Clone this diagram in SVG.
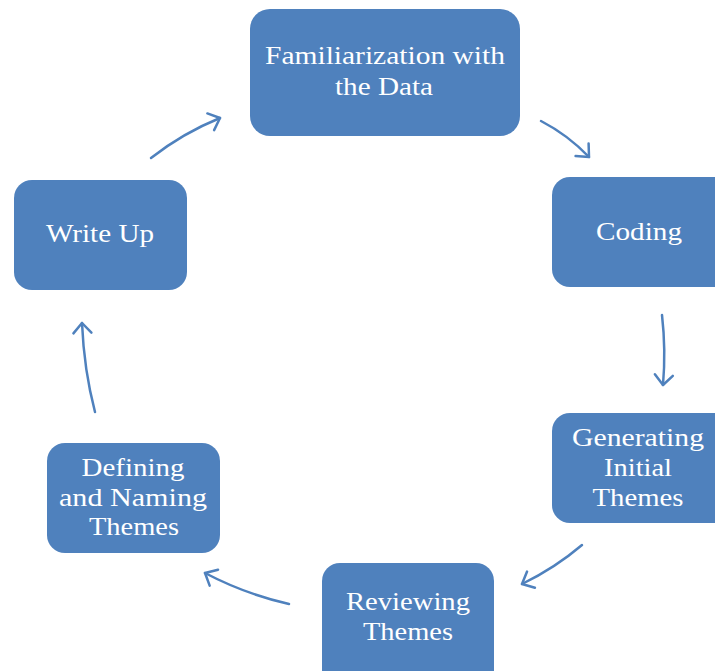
<svg xmlns="http://www.w3.org/2000/svg" width="715" height="671" viewBox="0 0 715 671">
  <style>
    .box { fill: #4F81BD; }
    .lbl { fill: #ffffff; font-family: "Liberation Serif", "DejaVu Serif", serif; font-size: 26px; text-anchor: middle; }
    .arc { fill: none; stroke: #4F81BD; stroke-width: 2.5; stroke-linecap: round; marker-end: url(#chev); }
  </style>
  <defs>
    <marker id="chev" viewBox="0 0 12 12" refX="10" refY="6" markerWidth="12" markerHeight="12" markerUnits="userSpaceOnUse" orient="auto" overflow="visible">
      <path d="M 0 -3 L 10 6 L 0 15" fill="none" stroke="#4F81BD" stroke-width="2.5" stroke-linecap="round" stroke-linejoin="round"/>
    </marker>
  </defs>
  <rect width="715" height="671" fill="#ffffff"/>

  <g id="familiarization">
    <rect class="box" x="250" y="9" width="270" height="127" rx="20"/>
    <text class="lbl" x="385" y="64" textLength="240" lengthAdjust="spacingAndGlyphs">Familiarization with</text>
    <text class="lbl" x="384" y="95" textLength="98" lengthAdjust="spacingAndGlyphs">the Data</text>
  </g>
  <g id="coding">
    <rect class="box" x="552" y="177" width="180" height="110" rx="18"/>
    <text class="lbl" x="639" y="240" textLength="86" lengthAdjust="spacingAndGlyphs">Coding</text>
  </g>
  <g id="generating">
    <rect class="box" x="552" y="413" width="180" height="110" rx="18"/>
    <text class="lbl" x="638" y="446" textLength="132" lengthAdjust="spacingAndGlyphs">Generating</text>
    <text class="lbl" x="638" y="476" textLength="68" lengthAdjust="spacingAndGlyphs">Initial</text>
    <text class="lbl" x="638" y="506" textLength="91" lengthAdjust="spacingAndGlyphs">Themes</text>
  </g>
  <g id="reviewing">
    <rect class="box" x="322" y="563" width="172" height="125" rx="18"/>
    <text class="lbl" x="408" y="610" textLength="124" lengthAdjust="spacingAndGlyphs">Reviewing</text>
    <text class="lbl" x="408" y="640" textLength="90" lengthAdjust="spacingAndGlyphs">Themes</text>
  </g>
  <g id="defining">
    <rect class="box" x="47" y="443" width="173" height="110" rx="18"/>
    <text class="lbl" x="133" y="476" textLength="103" lengthAdjust="spacingAndGlyphs">Defining</text>
    <text class="lbl" x="133" y="506" textLength="148" lengthAdjust="spacingAndGlyphs">and Naming</text>
    <text class="lbl" x="134" y="535" textLength="90" lengthAdjust="spacingAndGlyphs">Themes</text>
  </g>
  <g id="writeup">
    <rect class="box" x="14" y="180" width="173" height="110" rx="18"/>
    <text class="lbl" x="100" y="242" textLength="108" lengthAdjust="spacingAndGlyphs">Write Up</text>
  </g>

  <g id="connectors">
    <path class="arc" d="M 151 158 Q 183 133 220 118"/>
    <path class="arc" d="M 541 121 Q 568 135 589 157"/>
    <path class="arc" d="M 662 315 Q 666 350 663 385"/>
    <path class="arc" d="M 582 545 Q 555 568 522 584"/>
    <path class="arc" d="M 289 604 Q 245 594 205 573"/>
    <path class="arc" d="M 95 412 Q 84 370 82 323"/>
  </g>
</svg>
